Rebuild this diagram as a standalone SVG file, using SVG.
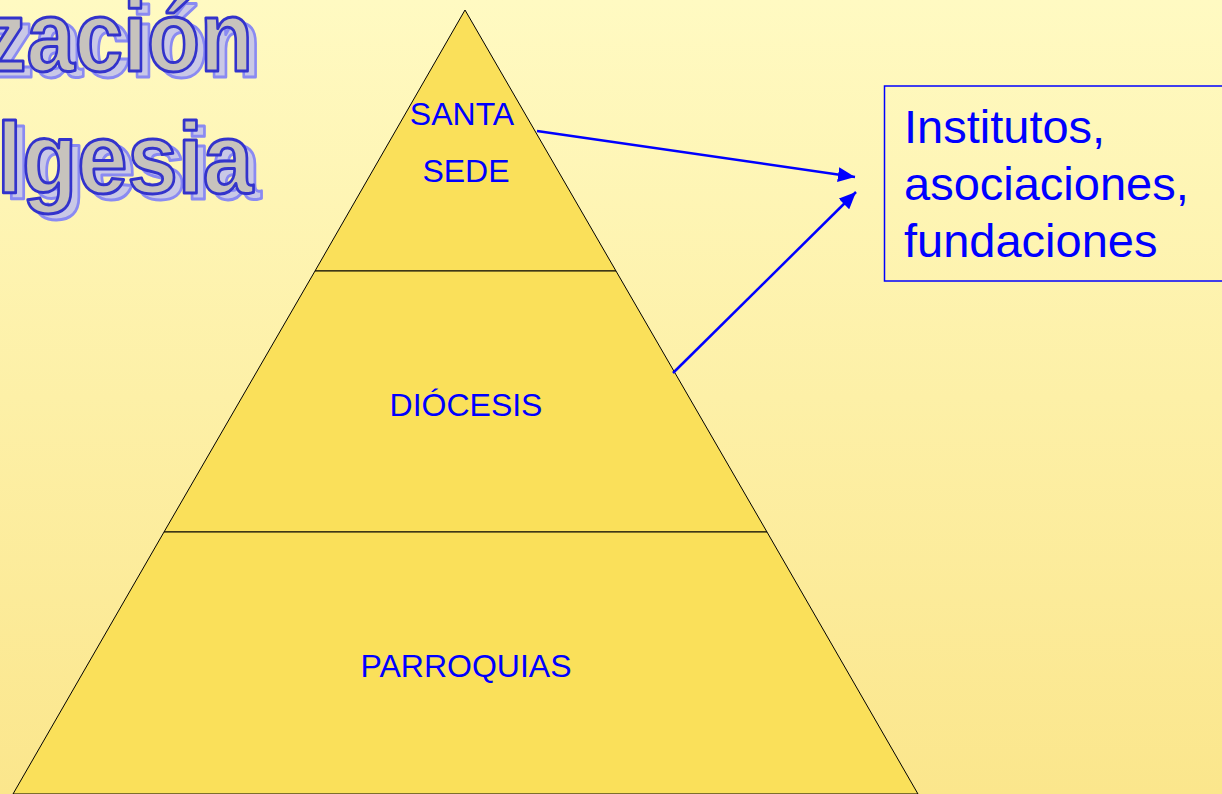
<svg xmlns="http://www.w3.org/2000/svg" width="1222" height="794" viewBox="0 0 1222 794">
<defs>
<linearGradient id="bg" x1="0" y1="0" x2="0" y2="1">
<stop offset="0" stop-color="#fffac2"/>
<stop offset="1" stop-color="#fbe68c"/>
</linearGradient>
<marker id="arr" markerUnits="userSpaceOnUse" markerWidth="19" markerHeight="15" refX="17" refY="7.5" orient="auto">
<path d="M0,0 L17,7.5 L0,15 Z" fill="#0000ff"/>
</marker>
</defs>
<style>
.title{font-family:"Liberation Sans",Arial,sans-serif;font-weight:bold;font-size:100px;stroke-width:3;stroke-linejoin:round}
.main{fill:#c7c3bd;stroke:#3333cc}
.shadow{fill:#c9c8e6;stroke:#8a8af2}
.lvl{fill:#fae05a;stroke:#000;stroke-width:1}
.lbl{font-family:"Liberation Sans",Arial,sans-serif;font-size:32px;fill:#0000ff;text-anchor:middle}
.box{fill:none;stroke:#0000ff;stroke-width:1.5}
.boxt{font-family:"Liberation Sans",Arial,sans-serif;font-size:47px;fill:#0000ff}
.conn{stroke:#0000ff;stroke-width:2.5;fill:none;marker-end:url(#arr)}
</style>
<rect width="1222" height="794" fill="url(#bg)"/>
<g id="title">
<text class="title shadow" x="-9" y="77" textLength="270" lengthAdjust="spacingAndGlyphs">zación</text>
<text class="title shadow" x="5" y="199" textLength="256" lengthAdjust="spacingAndGlyphs">lgesia</text>
<text class="title main" x="-17" y="71" textLength="270" lengthAdjust="spacingAndGlyphs">zación</text>
<text class="title main" x="-3" y="193" textLength="256" lengthAdjust="spacingAndGlyphs">lgesia</text>
</g>
<g id="santa-sede">
<polygon class="lvl" points="465,10 616,271 315,271"/>
<text class="lbl" x="462" y="125">SANTA</text>
<text class="lbl" x="466" y="182">SEDE</text>
</g>
<g id="diocesis">
<polygon class="lvl" points="315,271 616,271 767,532 164,532"/>
<text class="lbl" x="466" y="416">DIÓCESIS</text>
</g>
<g id="parroquias">
<polygon class="lvl" points="164,532 767,532 918,794 13,794"/>
<text class="lbl" x="466" y="677">PARROQUIAS</text>
</g>
<g id="institutos">
<rect class="box" x="884.5" y="86" width="345" height="195"/>
<text class="boxt" x="904" y="143">Institutos,</text>
<text class="boxt" x="904" y="200">asociaciones,</text>
<text class="boxt" x="904" y="257">fundaciones</text>
</g>
<g id="connectors">
<line class="conn" x1="537" y1="131" x2="855" y2="177"/>
<line class="conn" x1="673" y1="373" x2="856" y2="192"/>
</g>
</svg>
